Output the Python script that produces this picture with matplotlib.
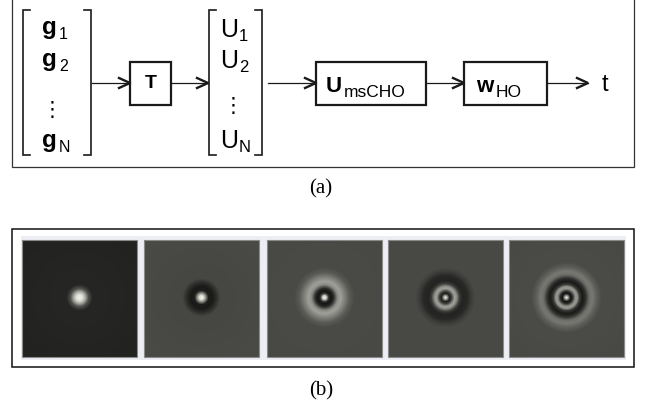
import numpy as np
import matplotlib.pyplot as plt
from matplotlib.patches import Rectangle

# --- data ---
# column vectors (label, subscript, y of baseline)
g_rows = [("g", "1", 34), ("g", "2", 66), ("g", "N", 147)]
u_rows = [("U", "1", 37), ("U", "2", 68), ("U", "N", 148)]

# blocks: (x0, x1, main text, subscript)
blocks = [(130, 171, "T", ""), (316, 426, "U", "msCHO"), (464, 547, "w", "HO")]

# arrows: (x start, x end)
arrows = [(92, 130), (171, 208), (268, 316), (426, 464), (547, 588)]

# radial profiles of the five filters: radius (px) -> grey level (0-255)
prof_r = [
    [0, 3, 6, 9, 13, 80],
    [0, 2, 4, 7, 11, 15, 19, 80],
    [0, 2, 4, 6, 9, 13, 16, 20, 25, 30, 80],
    [0, 2, 4, 6, 9, 11, 14, 17, 22, 26, 30, 80],
    [0, 2, 4, 6, 9, 11, 13, 16, 19, 23, 26, 30, 35, 80],
]
prof_v = [
    [240, 225, 165, 80, 38, 34],
    [242, 225, 150, 30, 25, 45, 70, 74],
    [245, 200, 60, 20, 40, 140, 160, 130, 90, 74, 72],
    [245, 150, 30, 60, 160, 145, 60, 35, 40, 60, 72, 72],
    [250, 140, 20, 40, 150, 145, 60, 25, 45, 110, 120, 95, 75, 72],
]
panel_x = [22, 144, 267, 388, 509]

fig = plt.figure(figsize=(6.52, 4.07), dpi=100)
ax = fig.add_axes([0, 0, 1, 1])
ax.set_xlim(0, 652)
ax.set_ylim(407, 0)
ax.axis("off")

sans = "Liberation Sans"
serif = "Liberation Serif"
lc = "#1a1a1a"


def label(x, yb, main, sub, size, subsize, bold=False, dx=1, dy=-4):
    t = ax.text(x, yb, main, fontsize=size, family=sans, va="baseline",
                fontweight="bold" if bold else "normal")
    if sub:
        ax.annotate(sub, xy=(1, 0), xycoords=t, xytext=(dx, dy),
                    textcoords="offset pixels", fontsize=subsize, family=sans,
                    va="bottom", ha="left")


# outer box (a)
ax.add_patch(Rectangle((12, -2), 622, 169, fill=False, ec="#333333", lw=0.9))


def bracket(xl, xr, y0, y1, tick=7):
    ax.plot([xl + tick, xl, xl, xl + tick], [y0, y0, y1, y1], color=lc, lw=1.2,
            solid_joinstyle="miter")
    ax.plot([xr - tick, xr, xr, xr - tick], [y0, y0, y1, y1], color=lc, lw=1.2,
            solid_joinstyle="miter")


bracket(23, 91, 10, 155)
bracket(209, 262, 10, 155)

for lab, sub, yb in g_rows:
    label(42, yb, lab, sub, 17.5, 11.5, bold=True, dx=2, dy=-3)
ax.text(52, 110, "\u22ee", fontsize=15, family="DejaVu Sans", ha="center", va="center")

for lab, sub, yb in u_rows:
    label(220, yb, lab, sub, 18, 12, dx=1, dy=-2)
ax.text(233, 106, "\u22ee", fontsize=15, family="DejaVu Sans", ha="center", va="center")

for x0, x1, lab, sub in blocks:
    ax.add_patch(Rectangle((x0, 62), x1 - x0, 43, fill=False, ec=lc, lw=1.6))
    if sub:
        label(x0 + 10 if lab == "U" else x0 + 12, 92, lab, sub, 16, 12.5,
              bold=True, dx=2, dy=-3)
    else:
        ax.text((x0 + x1) / 2, 84, lab, fontsize=14, fontweight="bold",
                family=sans, ha="center", va="center")

ay = 83
for xs, xe in arrows:
    ax.plot([xs, xe], [ay, ay], color=lc, lw=0.9)
    ax.plot([xe - 11, xe, xe - 11], [ay - 5, ay, ay + 5], color=lc, lw=1.7,
            solid_joinstyle="miter")
ax.text(602, 91, "t", fontsize=17, family=sans, va="baseline")

ax.text(321, 189, "(a)", fontsize=15, family=serif, ha="center", va="center")

# box (b)
ax.add_patch(Rectangle((12, 229), 622, 138, fill=False, ec="#111111", lw=1.1))
ax.add_patch(Rectangle((21, 236), 605, 124, fc="#eceef4", ec="none"))

w = 115
h = 117
yy, xx = np.mgrid[0:h, 0:w] + 0.5
rr = np.hypot(xx - w / 2, yy - h / 2 + 1)
for x0, rp, vp in zip(panel_x, prof_r, prof_v):
    g = np.interp(rr, rp, vp) / 255.0
    img = np.dstack([g, g * 1.0, g * 0.96])
    ax.imshow(img, extent=[x0, x0 + w, 240 + h, 240], interpolation="bilinear",
              zorder=2)
    ax.add_patch(Rectangle((x0, 240), w, h, fill=False, ec="#8a8a8a", lw=0.8, zorder=3))

ax.set_xlim(0, 652)
ax.set_ylim(407, 0)
ax.set_aspect("auto")

ax.text(321, 391, "(b)", fontsize=15, family=serif, ha="center", va="center")

fig.savefig("out.png", dpi=100)
